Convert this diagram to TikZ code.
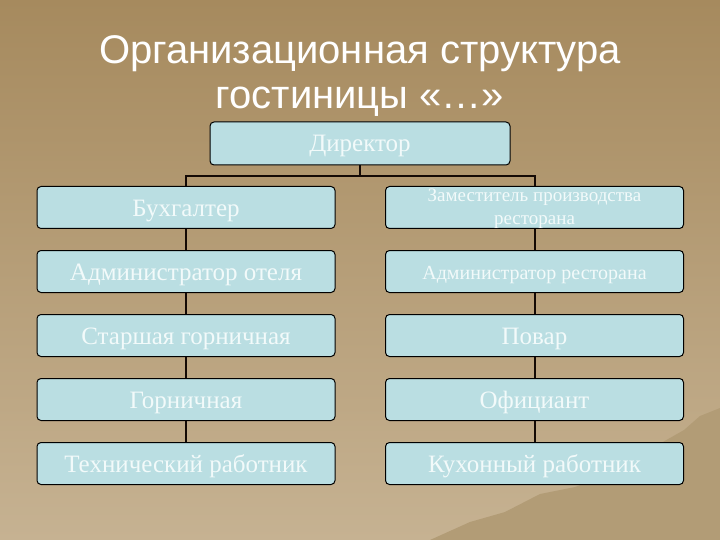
\documentclass[tikz,border=0pt]{standalone}
\usepackage{fontspec}
\setmainfont{Liberation Serif}
\newfontfamily\titlefont{Liberation Sans}
\usetikzlibrary{positioning}
\definecolor{bgtop}{RGB}{166,138,94}
\definecolor{bgbottom}{RGB}{198,178,146}
\definecolor{hill}{RGB}{178,156,118}
\definecolor{boxfill}{RGB}{186,222,226}
\definecolor{boxtext}{RGB}{242,250,250}
\definecolor{linkcol}{RGB}{20,10,5}
\tikzset{
    posbox/.style={draw=black, line width=1pt, fill=boxfill, rounded corners=4pt,
        minimum width=298pt, minimum height=42pt, inner sep=0pt, text=boxtext,
        font=\fontsize{25}{28}\selectfont, align=center,
        text height=19pt, text depth=2pt},
    smalltxt/.style={font=\fontsize{19}{23}\selectfont},
    link/.style={draw=linkcol, line width=2pt}
}

\begin{document}
\begin{tikzpicture}[x=1pt, y=-1pt, node distance=21pt]
    % background
    \shade[top color=bgtop, bottom color=bgbottom] (0,0) rectangle (720,540);
    \fill[hill] (430,540) -- (470,522) -- (505,512) -- (540,494) -- (575,487)
        -- (600,478) -- (640,455) -- (684,430) -- (700,416) -- (720,408) -- (720,540) -- cycle;
    \useasboundingbox (0,0) rectangle (720,540);

    % title
    \node[text=white, align=center, font=\titlefont\fontsize{40}{45}\selectfont] (title) at (360,76)
        {Организационная структура\\гостиницы «…»};

    % director
    \node[posbox, minimum width=300pt, minimum height=43pt] (dir) at (360,143.5) {Директор};

    % left column
    \node[posbox] (buh) at (186,207.5) {Бухгалтер};
    \node[posbox, below=of buh] (admh) {Администратор отеля};
    \node[posbox, below=of admh] (stg) {Старшая горничная};
    \node[posbox, below=of stg] (gor) {Горничная};
    \node[posbox, below=of gor] (teh) {Технический работник};

    % right column
    \node[posbox, smalltxt, text height=37pt] (zam) at (534.5,207.5) {Заместитель производства\\ресторана};
    \node[posbox, font=\fontsize{20}{23}\selectfont, text height=18pt, below=of zam] (admr) {Администратор ресторана};
    \node[posbox, below=of admr] (pov) {Повар};
    \node[posbox, below=of pov] (ofi) {Официант};
    \node[posbox, below=of ofi] (kuh) {Кухонный работник};

    % connectors
    \coordinate (bar) at (360,176);
    \draw[link] (dir.south) -- (bar);
    \draw[link] (buh.north) |- (bar) -| (zam.north);
    \foreach \a/\b in {buh/admh, admh/stg, stg/gor, gor/teh,
                       zam/admr, admr/pov, pov/ofi, ofi/kuh}
        \draw[link] (\a.south) -- (\b.north);
\end{tikzpicture}
\end{document}
